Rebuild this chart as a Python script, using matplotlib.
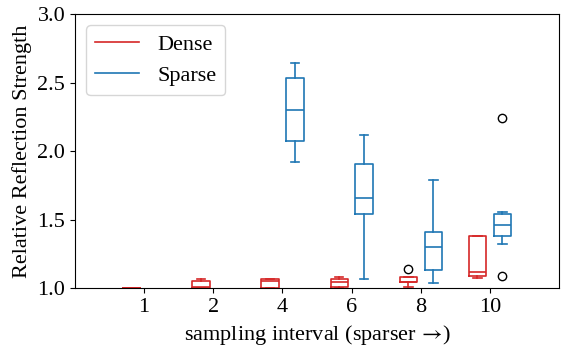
import matplotlib
matplotlib.use('Agg')
import matplotlib.pyplot as plt
from matplotlib.lines import Line2D

plt.rcParams['font.family'] = ['Liberation Serif', 'DejaVu Serif']
plt.rcParams['mathtext.fontset'] = 'stix'

# sampling intervals shown on x axis
intervals = ['1', '2', '4', '6', '8', '10']

# box stats: whislo, q1, med, q3, whishi, fliers
dense_whislo = [1.0, 1.0, 1.0, 1.0, 1.007, 1.077]
dense_q1 = [1.0, 1.0, 1.0, 1.012, 1.046, 1.088]
dense_med = [1.0, 1.01, 1.05, 1.044, 1.046, 1.119]
dense_q3 = [1.0, 1.053, 1.068, 1.068, 1.085, 1.384]
dense_whishi = [1.0, 1.066, 1.068, 1.085, 1.085, 1.384]
dense_fliers = [[], [], [], [], [1.14], []]

sparse_whislo = [None, None, 1.923, 1.068, 1.039, 1.321]
sparse_q1 = [None, None, 2.074, 1.54, 1.133, 1.384]
sparse_med = [None, None, 2.302, 1.656, 1.303, 1.462]
sparse_q3 = [None, None, 2.531, 1.908, 1.41, 1.544]
sparse_whishi = [None, None, 2.645, 2.12, 1.787, 1.559]
sparse_fliers = [[], [], [], [], [], [2.24, 1.09]]

red = '#d62728'
blue = '#1f77b4'


def make_stats(lo, q1, med, q3, hi, fl):
    stats = []
    pos = []
    for i in range(len(lo)):
        if lo[i] is None:
            continue
        stats.append({'whislo': lo[i], 'q1': q1[i], 'med': med[i],
                      'q3': q3[i], 'whishi': hi[i], 'fliers': fl[i]})
        pos.append(i + 1)
    return stats, pos


fig = plt.figure(figsize=(5.62, 3.48), dpi=100)
ax = fig.add_axes([0.1335, 0.1716, 0.8612, 0.7882])

for lists, color, shift in [
        ((dense_whislo, dense_q1, dense_med, dense_q3, dense_whishi, dense_fliers), red, -0.18),
        ((sparse_whislo, sparse_q1, sparse_med, sparse_q3, sparse_whishi, sparse_fliers), blue, 0.18)]:
    stats, pos = make_stats(*lists)
    ax.bxp(stats, positions=[p + shift for p in pos], widths=0.25,
           boxprops=dict(color=color, linewidth=1.2),
           medianprops=dict(color=color, linewidth=1.2),
           whiskerprops=dict(color=color, linewidth=1.2),
           capprops=dict(color=color, linewidth=1.2),
           flierprops=dict(marker='o', markerfacecolor='none',
                           markeredgecolor='black', markersize=6),
           manage_ticks=False)

ax.set_xlim(0, 7)
ax.set_ylim(1.0, 3.0)
ax.set_xticks(range(1, len(intervals) + 1))
ax.set_xticklabels(intervals)
ax.set_yticks([1.0, 1.5, 2.0, 2.5, 3.0])
ax.tick_params(labelsize=16)
ax.set_xlabel('sampling interval (sparser $\\!\\rightarrow\\!$)', fontsize=16)
ax.set_ylabel('Relative Reflection Strength', fontsize=16)

handles = [Line2D([], [], color=red, lw=1.2), Line2D([], [], color=blue, lw=1.2)]
ax.legend(handles, ['Dense', 'Sparse'], loc='upper left', fontsize=16)

fig.savefig('out.png', dpi=100)
